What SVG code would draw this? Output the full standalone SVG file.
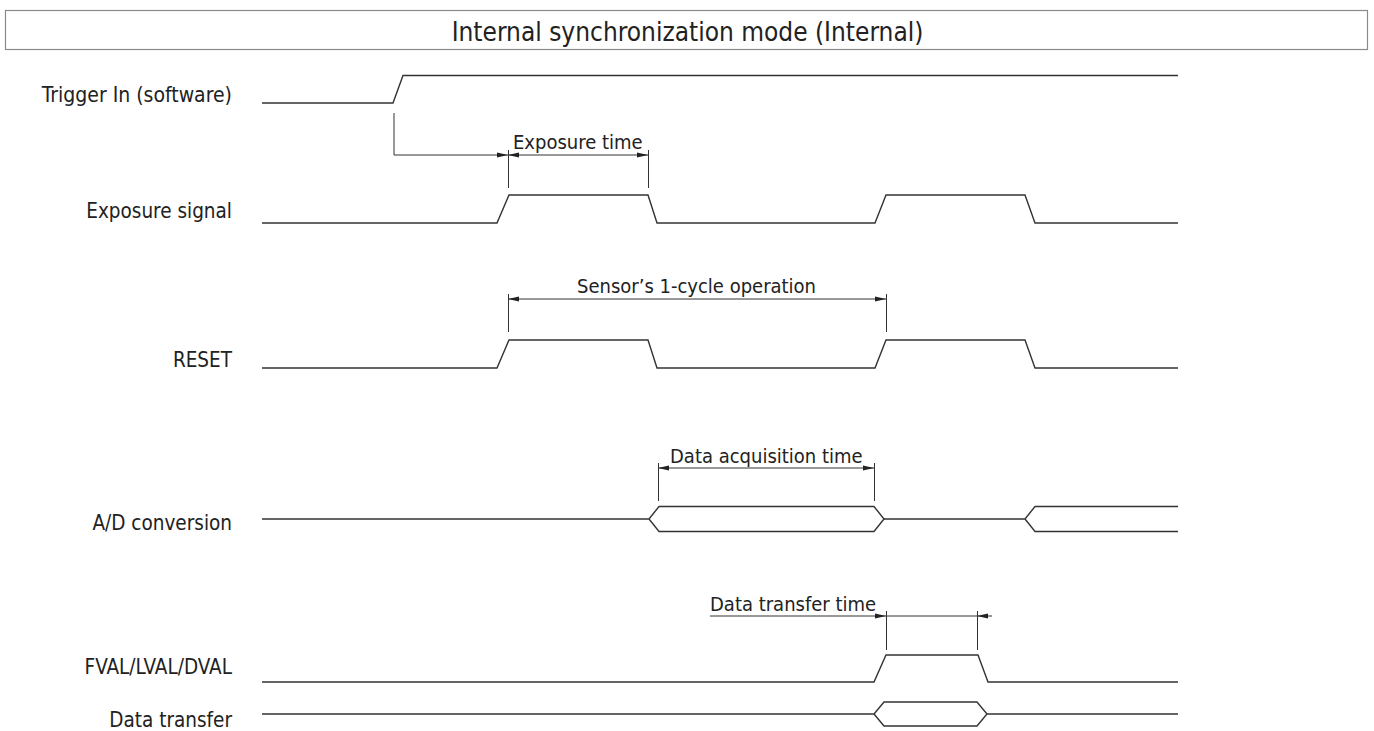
<svg xmlns="http://www.w3.org/2000/svg" width="1374" height="731" viewBox="0 0 1374 731">
<style>
text{font-family:"DejaVu Sans Condensed","DejaVu Sans",sans-serif;font-stretch:condensed;fill:#222}
.lbl{font-size:20.5px;text-anchor:end}
.ann{font-size:20px}
.sig{fill:none;stroke:#333;stroke-width:1.4;stroke-linejoin:miter}
.dim{fill:none;stroke:#333;stroke-width:1}
</style>
<defs>
<marker id="ah" markerUnits="userSpaceOnUse" markerWidth="11" markerHeight="6" refX="11" refY="3" orient="auto-start-reverse">
<path d="M0,0.5 L11,3 L0,5.5 z" fill="#222"/>
</marker>
</defs>
<rect x="0" y="0" width="1374" height="731" fill="#fff"/>
<g id="title">
<rect x="5.5" y="10.5" width="1362" height="39" fill="none" stroke="#8a8a8a" stroke-width="1.2"/>
<text x="687.5" y="41" style="font-size:26px" text-anchor="middle">Internal synchronization mode (Internal)</text>
</g>
<g id="trigger">
<text class="lbl" x="232" y="102" style="font-size:21px">Trigger In (software)</text>
<path class="sig" d="M262,103 H393 L403,75.5 H1178"/>
</g>
<g id="exposure">
<text class="lbl" x="232" y="218">Exposure signal</text>
<path class="sig" d="M262,223 H497 L509,195 H648 L657,223 H875 L886,195 H1025 L1035,223 H1178"/>
</g>
<g id="reset">
<text class="lbl" x="232" y="367">RESET</text>
<path class="sig" d="M262,368 H497 L509,340 H648 L657,368 H875 L886,340 H1025 L1035,368 H1178"/>
</g>
<g id="ad">
<text class="lbl" x="232" y="530">A/D conversion</text>
<path class="sig" d="M262,519 H649 L659,506.5 H874 L884,519 L874,531.5 H659 L649,519"/>
<path class="sig" d="M884,519 H1025 L1035,506.5 H1178 M1025,519 L1035,531.5 H1178"/>
</g>
<g id="fval">
<text class="lbl" x="232" y="674">FVAL/LVAL/DVAL</text>
<path class="sig" d="M262,682 H874 L886,655 H978 L988,682 H1178"/>
</g>
<g id="datatransfer">
<text class="lbl" x="232" y="727">Data transfer</text>
<path class="sig" d="M262,714 H874 L884,702 H977 L987,714 L977,726 H884 L874,714 M987,714 H1178"/>
</g>
<g id="connectors">
<path class="dim" d="M394,113 V155 H508" marker-end="url(#ah)"/>
<path class="dim" d="M508,155 H648" marker-start="url(#ah)" marker-end="url(#ah)"/>
<path class="dim" d="M508.5,150 V188 M648.5,150 V188"/>
<path class="dim" d="M508,299 H886" marker-start="url(#ah)" marker-end="url(#ah)"/>
<path class="dim" d="M508.5,294 V332 M886.5,294 V332"/>
<path class="dim" d="M658,468 H874" marker-start="url(#ah)" marker-end="url(#ah)"/>
<path class="dim" d="M658.5,463 V501 M874.5,463 V501"/>
<path class="dim" d="M710,616 H886" marker-end="url(#ah)"/>
<path class="dim" d="M886,616 H977"/>
<path class="dim" d="M992,616 H977" marker-end="url(#ah)"/>
<path class="dim" d="M886.5,611 V650 M977.5,611 V650"/>
</g>
<g id="annotations">
<text class="ann" x="513" y="149">Exposure time</text>
<text class="ann" x="577" y="293">Sensor’s 1-cycle operation</text>
<text class="ann" x="670" y="463">Data acquisition time</text>
<text class="ann" x="710" y="611">Data transfer time</text>
</g>
</svg>
